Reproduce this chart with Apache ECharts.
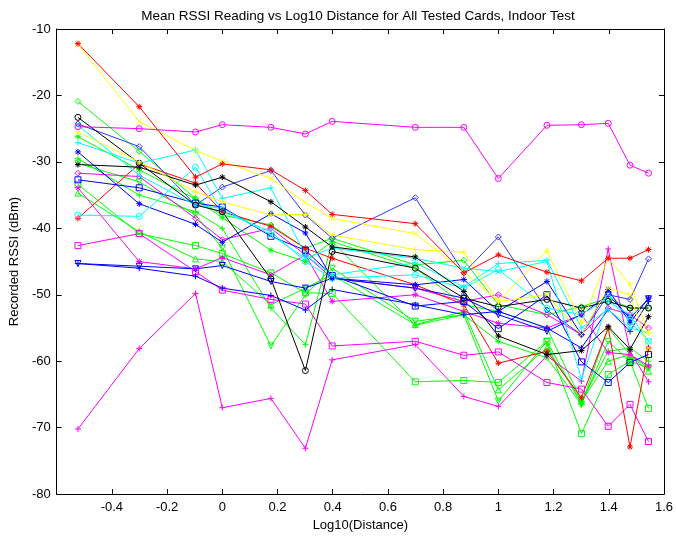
<!DOCTYPE html>
<html>
<head>
<meta charset="utf-8">
<script src="https://cdn.jsdelivr.net/npm/echarts@6/dist/echarts.min.js"></script>
<style>
  html, body { margin: 0; background: #fff; }
  #chart { width: 676px; height: 537px; }
</style>
</head>
<body>
<div id="chart"></div>
<script>
// log10 of the test distances (0.3 m ... 35 m)
const logDist = [-0.523, -0.301, -0.097, 0, 0.176, 0.301, 0.398, 0.699, 0.875, 1, 1.176, 1.301, 1.398, 1.477, 1.544]
const xTickLabels = ['-0.4', '-0.2', '0', '0.2', '0.4', '0.6', '0.8', '1', '1.2', '1.4', '1.6']
const yTickLabels = ['-10', '-20', '-30', '-40', '-50', '-60', '-70', '-80']

// mean RSSI per card (dBm)
const greenS = [-33.4, -40.8, -42.6, -43.8, -46.7, -49.7, -49.8, -63.1, -62.9, -63.2, -57, -70.9, -62, -60, -67.1]
const greenTri = [-34.7, -40.5, -44.6, -45, -51.5, -49, -47, -54.5, -52.5, -64.3, -58, -66, -60, -59, -61.5]
const greenV = [-30.2, -33, -38, -43, -57.7, -50, -46, -54, -53, -66, -57, -66.5, -57, -60, -61]
const greenStar = [-26.2, -31.2, -35.6, -38.4, -43.3, -45, -42, -54.6, -53, -57, -59.5, -66.5, -55, -59, -61]
const greenPlus = [-29.5, -35, -37.5, -40, -52, -57.5, -42, -46, -51.5, -52.5, -55, -66, -58.5, -58, -60]
const greenD = [-20.9, -28.4, -35.5, -38, -39.5, -43, -41.5, -45.5, -44.8, -51.5, -53, -51.8, -50.5, -52, -52]
const magentaS = [-42.6, -40.8, -46.5, -49.3, -50.7, -51.4, -57.7, -57, -59.1, -58.6, -63.2, -64.2, -69.8, -66.5, -72.1]
const magentaPlus = [-70.2, -58.1, -49.8, -67, -65.6, -73.1, -59.8, -57.5, -65.3, -66.8, -59.2, -63, -43.1, -58.5, -63.1]
const magentaStar = [-33.9, -45, -46.1, -44.4, -47, -44, -51, -50, -52.5, -54.3, -55, -53, -58.7, -59, -60.7]
const magentaD = [-31.7, -32.2, -38.5, -41.7, -40, -44, -47.5, -49, -51, -50, -53, -56, -52, -53, -55]
const redStar2 = [-38.5, -30.3, -33.2, -37.5, -39.7, -43, -44.5, -48.5, -51.5, -60.3, -58.5, -65.5, -55, -72.9, -58]
const blueS = [-32.7, -33.9, -36.2, -36.8, -41.2, -43.3, -47.1, -51.7, -51, -55.1, -50, -60.1, -63.2, -60.2, -59]
const bluePlus = [-45.3, -46, -47.2, -49, -50.1, -52.3, -49.2, -51.5, -53, -52.5, -55, -58, -52.2, -55.5, -51]
const blueV = [-45.3, -45.7, -46.1, -45.6, -48, -49, -47.5, -49, -50.5, -53, -55.5, -53, -50, -53.5, -50.6]
const blueStar = [-28.5, -36.3, -39.4, -42.1, -37.8, -40.7, -47.5, -48.5, -47.7, -52.5, -48, -56, -49.2, -54.2, -50.5]
const blueD = [-24.3, -27.7, -36.5, -33.8, -31.3, -38, -41.5, -35.4, -46.7, -41.3, -52.3, -56, -50, -50.7, -44.6]
const cyanO = [-38, -38.2, -30.8, -37.5, -40.5, -45, -47.5, -47, -49, -46.2, -52, -53, -50.5, -54, -57]
const cyanPlus = [-27.1, -30.2, -28.2, -35.5, -33.9, -44, -47, -45.2, -48.8, -45.3, -44.8, -55, -52.2, -55, -55.7]
const cyanX = [-24.5, -32, -36.5, -37, -41, -44.5, -43, -44.5, -46, -46.5, -45, -62.7, -51, -53, -57]
const blackO = [-23.3, -30.2, -36.5, -37.5, -47.6, -61.4, -43.5, -46, -50.5, -51.8, -50.7, -52, -51, -52, -52]
const blackStar = [-30.4, -30.8, -33.5, -32.3, -36, -39.8, -42.8, -44.3, -49.5, -56.2, -59, -58.4, -54.8, -58.2, -53.3]
const yellowX = [-12.3, -23.9, -28.3, -29.9, -32.5, -36.1, -38.5, -40.8, -46.5, -51, -50, -56, -49, -50, -58]
const yellowPlus = [-25.5, -30, -34.5, -36, -38, -37.9, -41, -43.2, -43.6, -51, -43.4, -54.2, -44.5, -48.4, -55.7]
const redStar = [-12.2, -21.7, -32.3, -30.3, -31.2, -34.3, -37.9, -39.3, -46.7, -44, -46.6, -47.9, -44.5, -44.5, -43.2]
const magentaO = [-24.7, -25, -25.5, -24.4, -24.8, -25.8, -23.9, -24.8, -24.8, -32.5, -24.5, -24.4, -24.2, -30.5, -31.7]

const marks = {
  o: 'path://M10,5A5,5,0,1,1,0,5A5,5,0,1,1,10,5Z',
  x: 'path://M0,0L10,10M10,0L0,10',
  plus: 'path://M5,0L5,10M0,5L10,5',
  star: 'path://M5,0L5,10M0,5L10,5M1.5,1.5L8.5,8.5M8.5,1.5L1.5,8.5',
  s: 'path://M0,0L10,0L10,10L0,10Z',
  d: 'path://M5,0L10,5L5,10L0,5Z',
  v: 'path://M0,1L10,1L5,10Z',
  tri: 'path://M5,0L10,9L0,9Z',
}

const cards = [
  [greenS, '#00ff00', 's'], [greenTri, '#00ff00', 'tri'], [greenV, '#00ff00', 'v'],
  [greenStar, '#00ff00', 'star'], [greenPlus, '#00ff00', 'plus'], [greenD, '#00ff00', 'd'],
  [magentaS, '#ff00ff', 's'], [magentaPlus, '#ff00ff', 'plus'], [magentaStar, '#ff00ff', 'star'],
  [magentaD, '#ff00ff', 'd'], [redStar2, '#ff0000', 'star'], [blueS, '#0000ff', 's'],
  [bluePlus, '#0000ff', 'plus'], [blueV, '#0000ff', 'v'], [blueStar, '#0000ff', 'star'],
  [blueD, '#3333ff', 'd'], [cyanO, '#00ffff', 'o'], [cyanPlus, '#00ffff', 'plus'],
  [cyanX, '#00ffff', 'x'], [blackO, '#000000', 'o'], [blackStar, '#000000', 'star'],
  [yellowX, '#ffff00', 'x'], [yellowPlus, '#ffff00', 'plus'], [redStar, '#ff0000', 'star'],
  [magentaO, '#ff00ff', 'o'],
]

const font = 'Liberation Sans, Arial, sans-serif'
const axisLine = { onZero: false, lineStyle: { color: '#000' } }
const axisTick = { inside: true, length: 5, lineStyle: { color: '#000' } }

const chart = echarts.init(document.getElementById('chart'))
chart.setOption({
  animation: false,
  backgroundColor: '#fff',
  title: {
    text: 'Mean RSSI Reading vs Log10 Distance for All Tested Cards, Indoor Test',
    left: 353,
    textAlign: 'center',
    top: 4,
    textStyle: { fontFamily: font, fontSize: 13.5, fontWeight: 'normal', color: '#000' },
  },
  grid: { left: 52, right: 10, top: 29, bottom: 42 },
  xAxis: [
    {
      type: 'value', min: -0.6, max: 1.6, interval: 0.2,
      name: 'Log10(Distance)', nameLocation: 'middle', nameGap: 23,
      nameTextStyle: { fontFamily: font, fontSize: 13, color: '#000' },
      axisLine, axisTick,
      axisLabel: {
        fontFamily: font, fontSize: 13, color: '#000', margin: 7,
        formatter: v => xTickLabels.find(t => Math.abs(Number(t) - v) < 1e-6) || '',
      },
      splitLine: { show: false },
    },
    {
      type: 'value', min: -0.6, max: 1.6, interval: 0.2, position: 'top',
      axisLine, axisTick,
      axisLabel: { show: false }, splitLine: { show: false },
    },
  ],
  yAxis: [
    {
      type: 'value', min: -80, max: -10, interval: 10,
      name: 'Recorded RSSI (dBm)', nameLocation: 'middle', nameGap: 35,
      nameTextStyle: { fontFamily: font, fontSize: 13, color: '#000' },
      axisLine, axisTick,
      axisLabel: {
        fontFamily: font, fontSize: 13, color: '#000', margin: 6,
        formatter: v => yTickLabels.find(t => Number(t) === v) || '',
      },
      splitLine: { show: false },
    },
    {
      type: 'value', min: -80, max: -10, interval: 10, position: 'right',
      axisLine, axisTick,
      axisLabel: { show: false }, splitLine: { show: false },
    },
  ],
  series: cards.map(([vals, color, m]) => ({
    type: 'line',
    data: logDist.map((x, i) => [x, vals[i]]),
    symbol: marks[m],
    symbolSize: 6,
    lineStyle: { color, width: 1 },
    itemStyle: { color: 'rgba(0,0,0,0)', borderColor: color, borderWidth: 1 },
    emphasis: { disabled: true },
  })),
})
</script>
</body>
</html>
